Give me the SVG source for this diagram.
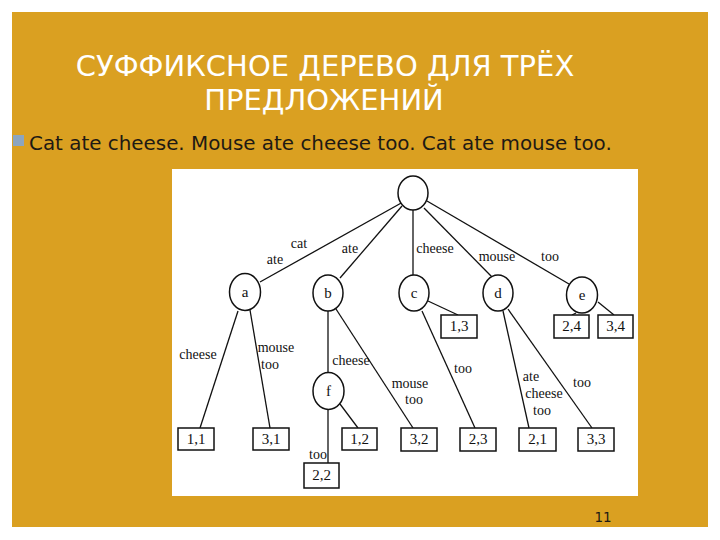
<svg xmlns="http://www.w3.org/2000/svg" width="720" height="540" viewBox="0 0 720 540">
<style>
.title{font-family:"DejaVu Sans",sans-serif;font-size:29px;fill:#ffffff;text-anchor:middle}
.body{font-family:"DejaVu Sans",sans-serif;font-size:19.9px;fill:#1e1a14}
.num{font-family:"DejaVu Sans",sans-serif;font-size:13.5px;fill:#1e1a14;text-anchor:middle}
.node ellipse{fill:#ffffff;stroke:#111;stroke-width:1.5}
.node rect{fill:#ffffff;stroke:#111;stroke-width:1.5}
.lbl{font-family:"Liberation Serif","DejaVu Serif","Times New Roman",serif;font-size:14px;fill:#111;text-anchor:middle}
.nl{font-family:"Liberation Serif","DejaVu Serif","Times New Roman",serif;font-size:15px;fill:#111;text-anchor:middle}
.edges line{stroke:#111;stroke-width:1.3}
</style>
<rect x="0" y="0" width="720" height="540" fill="#ffffff"/>
<rect x="12" y="12" width="696" height="515" fill="#daa021"/>
<text class="title" x="325" y="76">СУФФИКСНОЕ ДЕРЕВО ДЛЯ ТРЁХ</text>
<text class="title" x="324" y="110">ПРЕДЛОЖЕНИЙ</text>
<rect x="13" y="135" width="11" height="11" fill="#8ca5bf"/>
<text class="body" x="29" y="150">Cat ate cheese. Mouse ate cheese too. Cat ate mouse too.</text>
<rect x="172" y="169" width="466" height="327" fill="#ffffff"/>
<text class="num" x="603" y="522">11</text>
<g id="connectors" class="edges">
<line x1="403" y1="202" x2="260" y2="282"/>
<line x1="402" y1="206" x2="340" y2="278"/>
<line x1="413" y1="210" x2="413" y2="275"/>
<line x1="424" y1="208" x2="492" y2="277"/>
<line x1="427" y1="201" x2="569" y2="284"/>
<line x1="238" y1="311" x2="200" y2="428"/>
<line x1="250" y1="310" x2="270" y2="428"/>
<line x1="328" y1="311" x2="328" y2="373"/>
<line x1="336" y1="309" x2="413" y2="428"/>
<line x1="340" y1="404" x2="358" y2="428"/>
<line x1="328" y1="409" x2="328" y2="463"/>
<line x1="428" y1="301" x2="458" y2="315"/>
<line x1="422" y1="311" x2="475" y2="428"/>
<line x1="503" y1="311" x2="529" y2="428"/>
<line x1="508" y1="309" x2="592" y2="428"/>
<line x1="576" y1="313" x2="572" y2="315"/>
<line x1="598" y1="302" x2="614" y2="315"/>
<text class="lbl" x="299" y="248">cat</text>
<text class="lbl" x="275" y="264">ate</text>
<text class="lbl" x="350" y="253">ate</text>
<text class="lbl" x="435" y="253">cheese</text>
<text class="lbl" x="497" y="261">mouse</text>
<text class="lbl" x="550" y="261">too</text>
<text class="lbl" x="198" y="359">cheese</text>
<text class="lbl" x="276" y="352">mouse</text>
<text class="lbl" x="270" y="369">too</text>
<text class="lbl" x="351" y="365">cheese</text>
<text class="lbl" x="410" y="388">mouse</text>
<text class="lbl" x="414" y="404">too</text>
<text class="lbl" x="318" y="459">too</text>
<text class="lbl" x="463" y="373">too</text>
<text class="lbl" x="531" y="381">ate</text>
<text class="lbl" x="544" y="398">cheese</text>
<text class="lbl" x="542" y="415">too</text>
<text class="lbl" x="582" y="387">too</text>
</g>
<g id="root" class="node"><ellipse cx="413" cy="193" rx="15" ry="17"/></g>
<g id="a" class="node"><ellipse cx="245" cy="292" rx="15.5" ry="18.5"/><text class="nl" x="245" y="297">a</text></g>
<g id="b" class="node"><ellipse cx="328" cy="293" rx="15" ry="18"/><text class="nl" x="328" y="298">b</text></g>
<g id="c" class="node"><ellipse cx="414" cy="293" rx="15" ry="18"/><text class="nl" x="414" y="298">c</text></g>
<g id="d" class="node"><ellipse cx="498" cy="293" rx="15" ry="18"/><text class="nl" x="498" y="298">d</text></g>
<g id="e" class="node"><ellipse cx="582" cy="295" rx="15.5" ry="18"/><text class="nl" x="582" y="300">e</text></g>
<g id="f" class="node"><ellipse cx="328.5" cy="391" rx="15.5" ry="18.5"/><text class="nl" x="328.5" y="396" fill="#555">f</text></g>
<g id="leaf11" class="node"><rect x="178" y="428" width="36" height="22"/><text class="nl" x="196" y="444">1,1</text></g>
<g id="leaf31" class="node"><rect x="253" y="428" width="36" height="22"/><text class="nl" x="271" y="444">3,1</text></g>
<g id="leaf12" class="node"><rect x="342" y="428" width="35" height="22"/><text class="nl" x="359.5" y="444">1,2</text></g>
<g id="leaf32" class="node"><rect x="401" y="428" width="36" height="23"/><text class="nl" x="419" y="444">3,2</text></g>
<g id="leaf23" class="node"><rect x="460" y="428" width="36" height="23"/><text class="nl" x="478" y="444">2,3</text></g>
<g id="leaf21" class="node"><rect x="519" y="428" width="37" height="23"/><text class="nl" x="537.5" y="444">2,1</text></g>
<g id="leaf33" class="node"><rect x="578" y="428" width="36" height="23"/><text class="nl" x="596" y="444">3,3</text></g>
<g id="leaf22" class="node"><rect x="304" y="463" width="35" height="25"/><text class="nl" x="321.5" y="480">2,2</text></g>
<g id="leaf13" class="node"><rect x="441" y="315" width="36" height="23"/><text class="nl" x="459" y="331">1,3</text></g>
<g id="leaf24" class="node"><rect x="554" y="315" width="35" height="23"/><text class="nl" x="571.5" y="331">2,4</text></g>
<g id="leaf34" class="node"><rect x="598" y="315" width="35" height="23"/><text class="nl" x="615.5" y="331">3,4</text></g>
</svg>
